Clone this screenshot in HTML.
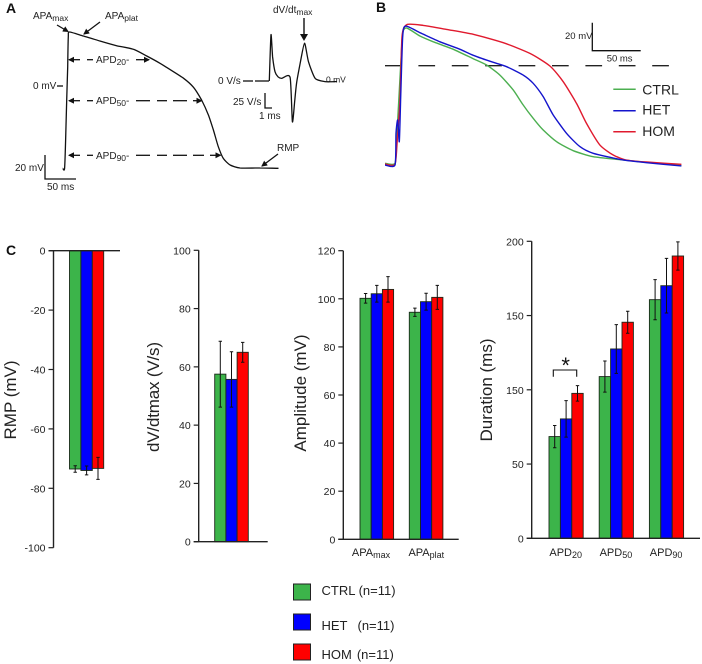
<!DOCTYPE html>
<html lang="en">
<head>
<meta charset="utf-8">
<title>Action potential figure</title>
<style>
html,body{margin:0;padding:0;background:#fff;}
svg{display:block;font-family:"Liberation Sans",Arial,sans-serif;fill:#222;filter:blur(0.3px);}
text{stroke:none;}
.p{font-weight:bold;font-size:14px;fill:#111;}
.a{font-size:10px;}
.sub{font-size:8.5px;}
.dash{stroke:#111;stroke-width:1.3;fill:none;}
.ln{stroke:#111;stroke-width:1.3;fill:none;}
.tick{font-size:10.5px;}
.title{font-size:17px;}
.leg{font-size:13px;}
</style>
</head>
<body>
<svg id="fig" xmlns="http://www.w3.org/2000/svg" width="702" height="664" viewBox="0 0 702 664">
<defs>
<marker id="ah" markerWidth="7" markerHeight="7" refX="5" refY="3" orient="auto-start-reverse" markerUnits="userSpaceOnUse"><path d="M0 0L6 3L0 6Z" fill="#111"/></marker>
</defs>

<g>
<text class="p" x="6" y="13">A</text>
<text class="a" x="33" y="19">APA<tspan class="sub" dy="2">max</tspan></text>
<text class="a" x="105" y="19">APA<tspan class="sub" dy="2">plat</tspan></text>
<line class="ln" x1="57" y1="25" x2="68" y2="31.5" marker-end="url(#ah)"/>
<line class="ln" x1="100" y1="22" x2="84" y2="34" marker-end="url(#ah)"/>
<text class="a" x="33" y="89">0 mV</text>
<line class="ln" x1="57" y1="86" x2="63" y2="86"/>

<g>
<line class="dash" x1="69" y1="59.7" x2="80" y2="59.7" marker-start="url(#ah)"/>
<line class="dash" x1="87" y1="59.7" x2="93" y2="59.7"/>
<line class="dash" x1="136" y1="59.7" x2="149" y2="59.7" marker-end="url(#ah)"/>
<text class="a" x="96" y="63">APD<tspan class="sub" dy="2">20</tspan><tspan dy="-2">-</tspan></text>
</g>
<g>
<line class="dash" x1="69" y1="100.7" x2="80" y2="100.7" marker-start="url(#ah)"/>
<line class="dash" x1="87" y1="100.7" x2="93" y2="100.7"/>
<line class="dash" x1="136" y1="100.7" x2="150" y2="100.7"/>
<line class="dash" x1="157" y1="100.7" x2="167" y2="100.7"/>
<line class="dash" x1="173" y1="100.7" x2="187" y2="100.7"/>
<line class="dash" x1="193" y1="100.7" x2="201.5" y2="100.7" marker-end="url(#ah)"/>
<text class="a" x="96" y="104">APD<tspan class="sub" dy="2">50</tspan><tspan dy="-2">-</tspan></text>
</g>
<g>
<line class="dash" x1="69" y1="155.3" x2="80" y2="155.3" marker-start="url(#ah)"/>
<line class="dash" x1="87" y1="155.3" x2="93" y2="155.3"/>
<line class="dash" x1="136" y1="155.3" x2="150" y2="155.3"/>
<line class="dash" x1="157" y1="155.3" x2="167" y2="155.3"/>
<line class="dash" x1="173" y1="155.3" x2="187" y2="155.3"/>
<line class="dash" x1="193" y1="155.3" x2="204" y2="155.3"/>
<line class="dash" x1="210" y1="155.3" x2="220.5" y2="155.3" marker-end="url(#ah)"/>
<text class="a" x="96" y="159">APD<tspan class="sub" dy="2">90</tspan><tspan dy="-2">-</tspan></text>
</g>

<text class="a" x="277" y="151">RMP</text>
<line class="ln" x1="278" y1="154" x2="262" y2="166" marker-end="url(#ah)"/>
<path class="ln" d="M45 155V179H76"/>
<text class="a" x="15" y="171">20 mV</text>
<text class="a" x="47" y="190">50 ms</text>

<text class="a" x="273" y="13">dV/dt<tspan class="sub" dy="2">max</tspan></text>
<line x1="304" y1="18" x2="304" y2="36" stroke="#111" stroke-width="1.4"/>
<path d="M300 34H308L304 41Z" fill="#111"/>
<text class="a" x="218" y="84">0 V/s</text>
<line class="ln" x1="243" y1="81" x2="253" y2="81"/>
<line class="ln" x1="255" y1="81" x2="269" y2="81"/>
<text x="326" y="82.5" font-size="8.5">0 mV</text>
<text class="a" x="233" y="105">25 V/s</text>
<path class="ln" d="M265 93V108H272"/>
<text class="a" x="259" y="119">1 ms</text>
</g>

<g>
<text class="p" x="376" y="12">B</text>
<text x="565" y="39" font-size="9.5">20 mV</text>
<path d="M592.3 22.7V50.7H640.7" fill="none" stroke="#111" stroke-width="1.3"/>
<text x="606.7" y="61.5" font-size="9.5">50 ms</text>
<line x1="385" y1="65.7" x2="670" y2="65.7" stroke="#222" stroke-width="1.4" stroke-dasharray="16.7 16.7"/>
<line x1="613.3" y1="89.3" x2="635.7" y2="89.3" stroke="#4caf50" stroke-width="1.5"/>
<line x1="613.3" y1="110.7" x2="635.7" y2="110.7" stroke="#1414cc" stroke-width="1.5"/>
<line x1="613.3" y1="131.7" x2="635.7" y2="131.7" stroke="#e01a2e" stroke-width="1.5"/>
<text x="642.3" y="94.5" font-size="14">CTRL</text>
<text x="642.3" y="114.5" font-size="14">HET</text>
<text x="642.3" y="136" font-size="14">HOM</text>
</g>

<g>
<text class="p" x="6" y="255">C</text>
<text class="title" transform="translate(16,400) rotate(-90)" text-anchor="middle">RMP (mV)</text>
<text class="title" transform="translate(159,397) rotate(-90)" text-anchor="middle" textLength="110">dV/dtmax (V/s)</text>
<text class="title" transform="translate(306,393) rotate(-90)" text-anchor="middle">Amplitude (mV)</text>
<text class="title" transform="translate(492,390) rotate(-90)" text-anchor="middle">Duration (ms)</text>
<path d="M553.3 376.7V370H576.7V376.7" fill="none" stroke="#111" stroke-width="1.1"/>
<text x="565.7" y="373" font-size="22" text-anchor="middle" fill="#111">*</text>
</g>

<g>
<rect x="293.5" y="584" width="17" height="16" fill="#3cb44a" stroke="#222" stroke-width="1"/>
<rect x="293.5" y="614" width="17" height="16" fill="#0000ff" stroke="#222" stroke-width="1"/>
<rect x="293.5" y="644" width="17" height="16" fill="#ff0000" stroke="#222" stroke-width="1"/>
<text class="leg" x="321.5" y="595">CTRL (n=11)</text>
<text class="leg" x="321.5" y="630">HET<tspan dx="10">(n=11)</tspan></text>
<text class="leg" x="321.5" y="659">HOM<tspan dx="5">(n=11)</tspan></text>
</g>
</svg>

<script>
// Panel A action potential (ms, mV)
var apTime = [0,3,5,6.5,8,9,10.8,33,60,87,114,135.5,157,168,195,211,224,235,243,251,259,270,286,318,348];
var apVoltage = [-68.6,-68.6,-39.4,-11.7,16,41,45,41.7,37.5,33.6,30.6,25,18.9,15.3,6.4,-1.1,-11.7,-24.2,-36.7,-50.6,-60.3,-65.8,-68.3,-68.3,-68.6];
// Panel A inset derivative (ms, V/s)
var dvdtTime = [0,0.25,0.5,0.85,1.3,1.85,3.1,3.45,3.8,4.1,4.6,5.25,5.85,6.85,8.35,10.1];
var dvdtValue = [0,77,40,15.5,7,4.4,6,-68,-32,-1,29,63,32,4.4,-1,-1];
// Panel B traces (ms, mV)
var ctrlTime = [0,10.4,12.1,16.3,18.4,22.6,36.4,50.3,71.1,91.9,105.8,119.7,133.6,144,154.4,164.8,178.7,196,216.9,244.6,272.4,308.8];
var ctrlVoltage = [-69.7,-69.7,-53,-0.7,23.1,26.9,21.2,17.1,11.7,5,0.5,-6.7,-17.4,-28.1,-37.6,-45.9,-54.3,-60.7,-65,-67.1,-69,-71.2];
var hetTime = [0,10.4,11.5,13.2,14.9,16.3,18.4,21.5,36.4,57.3,78.1,92,112.8,126.7,144,154.4,164.8,175.2,189.1,203,216.9,244.6,272.4,308.8];
var hetVoltage = [-70.9,-70.9,-48.3,-38.8,-54.3,-24.5,20.7,28.3,23.6,17.1,11.7,7.4,2.4,-0.7,-6.7,-12.6,-22.1,-35.2,-48.3,-57.8,-62.6,-66.9,-69.3,-71.6];
var homTime = [0,10.4,12.8,15.6,17.7,22.6,39.9,64.2,92,123.2,150.9,171.8,185.6,199.5,209.9,223.8,237.7,251.6,272.4,308.8];
var homVoltage = [-70.2,-70.4,-53,-24.5,20.7,29.3,28.8,25.9,22.4,16.4,8.8,-0.2,-11.4,-26.9,-41.2,-56.6,-63.8,-67.4,-68.8,-70.4];
// Panel C: RMP
var rmpTicks = [0,-20,-40,-60,-80,-100];
var rmpTickLabels = ['0','-20','-40','-60','-80','-100'];
var rmpMeans = [-73.5,-74,-73.3];
var rmpErrors = [1.1,1.5,3.7];
// Panel C: dV/dt max
var dvdtTicks = [0,20,40,60,80,100];
var dvdtTickLabels = ['0','20','40','60','80','100'];
var dvdtMeans = [57.5,55.7,65];
var dvdtErrors = [11.3,9.5,3.4];
// Panel C: amplitude
var ampTicks = [0,20,40,60,80,100,120];
var ampTickLabels = ['0','20','40','60','80','100','120'];
var ampCategories = ['APA|max','APA|plat'];
var ampCtrl = [100.2,94.4];
var ampHet = [102.1,98.8];
var ampHom = [103.9,100.6];
var ampCtrlErr = [2,1.7];
var ampHetErr = [3.5,3.5];
var ampHomErr = [5.3,5];
// Panel C: duration (labels as printed in the figure)
var durTicks = [0,50,100,150,200];
var durTickLabels = ['0','50','150','150','200'];
var durCategories = ['APD|20','APD|50','APD|90'];
var durCtrl = [68.5,108.9,160.7];
var durHet = [80.4,127.5,170.1];
var durHom = [97.6,145.5,190.1];
var durCtrlErr = [7.5,10.5,13.5];
var durHetErr = [12.3,16.4,18.4];
var durHomErr = [5.2,7.4,9.5];

var groupKeys = ['ctrl','het','hom'];
var barColors = ['#3cb44a','#0000ff','#ff0000'];
var NS = 'http://www.w3.org/2000/svg';
var fig = document.getElementById('fig');

function make(tag, attrs, parent) {
  var el = document.createElementNS(NS, tag);
  for (var k in attrs) el.setAttribute(k, attrs[k]);
  (parent || fig).appendChild(el);
  return el;
}
function linearScale(d0, d1, r0, r1) {
  return function (v) { return r0 + (v - d0) * (r1 - r0) / (d1 - d0); };
}
// Smooth curve through the sampled points (Catmull-Rom, reduced tension)
function tracePath(times, values, sx, sy) {
  var pts = times.map(function (t, i) { return [sx(t), sy(values[i])]; });
  var k = 0.11;
  var d = 'M' + pts[0][0].toFixed(1) + ' ' + pts[0][1].toFixed(1);
  for (var i = 0; i < pts.length - 1; i++) {
    var p0 = pts[Math.max(i - 1, 0)], p1 = pts[i], p2 = pts[i + 1], p3 = pts[Math.min(i + 2, pts.length - 1)];
    d += 'C' + (p1[0] + (p2[0] - p0[0]) * k).toFixed(1) + ' ' + (p1[1] + (p2[1] - p0[1]) * k).toFixed(1) + ' ' +
         (p2[0] - (p3[0] - p1[0]) * k).toFixed(1) + ' ' + (p2[1] - (p3[1] - p1[1]) * k).toFixed(1) + ' ' +
         p2[0].toFixed(1) + ' ' + p2[1].toFixed(1);
  }
  return d;
}
function drawTrace(name, times, values, sx, sy, color, width) {
  var el = make('path', {d: tracePath(times, values, sx, sy), fill: 'none', stroke: color, 'stroke-width': width, 'stroke-linejoin': 'round'});
  
  
}

var apX = linearScale(0, 50, 62.7, 93.7);
var apY = linearScale(0, 20, 86, 62);
drawTrace('action-potential-trace', apTime, apVoltage, apX, apY, '#111', 1.3);
var inX = linearScale(0, 1, 269.3, 276);
var inY = linearScale(0, 25, 81, 66);
drawTrace('dvdt-trace', dvdtTime, dvdtValue, inX, inY, '#111', 1.3);

var bX = linearScale(0, 50, 385, 433);
var bY = linearScale(0, 20, 65.7, 37.7);
drawTrace('trace-ctrl', ctrlTime, ctrlVoltage, bX, bY, '#4caf50', 1.4);
drawTrace('trace-hom', homTime, homVoltage, bX, bY, '#e01a2e', 1.4);
drawTrace('trace-het', hetTime, hetVoltage, bX, bY, '#1414cc', 1.4);

function drawAxes(name, axisX, y, ticks, labels, xStart, xEnd, baseValue) {
  var g = make('g', {});
  
  
  var top = y(Math.max.apply(null, ticks));
  var bottom = y(Math.min.apply(null, ticks));
  var yAxis = make('line', {x1: axisX, x2: axisX, y1: top, y2: bottom, stroke: '#222', 'stroke-width': 1.4}, g);
  
  
  var xAxis = make('line', {x1: xStart, x2: xEnd, y1: y(baseValue), y2: y(baseValue), stroke: '#222', 'stroke-width': 1.4}, g);
  
  
  ticks.forEach(function (t, i) {
    var tick = make('line', {x1: axisX - 5, x2: axisX, y1: y(t), y2: y(t), stroke: '#222', 'stroke-width': 1.2}, g);
    
    
    var lab = make('text', {x: axisX - 8, y: y(t) + 4, 'text-anchor': 'end', 'class': 'tick'}, g);
    lab.textContent = labels[i];
    
    
  });
}
function drawBar(name, x, w, y, base, mean, err, color) {
  var top = Math.min(y(mean), y(base));
  var bar = make('rect', {x: x, y: top, width: w, height: Math.abs(y(mean) - y(base)), fill: color, stroke: '#1a2a1a', 'stroke-width': 0.9});
  
  
  var cx = x + w / 2;
  var eb = make('path', {
    d: 'M' + cx + ' ' + y(mean + err) + 'V' + y(mean - err) +
       'M' + (cx - 1.7) + ' ' + y(mean + err) + 'H' + (cx + 1.7) +
       'M' + (cx - 1.7) + ' ' + y(mean - err) + 'H' + (cx + 1.7),
    fill: 'none', stroke: '#111', 'stroke-width': 1
  });
  
  
}
function drawCategoryLabel(text, cx, by) {
  var parts = text.split('|');
  var t = make('text', {x: cx, y: by, 'text-anchor': 'middle', 'font-size': 11});
  t.appendChild(document.createTextNode(parts[0]));
  var s = make('tspan', {dy: 2, 'font-size': 9}, t);
  s.textContent = parts[1];
  
  
}

// RMP
var rmpY = linearScale(0, -100, 250.7, 547.7);
groupKeys.forEach(function (k, i) {
  drawBar('rmp-' + k, 69.5 + i * 11.4, 11.4, rmpY, 0, rmpMeans[i], rmpErrors[i], barColors[i]);
});
drawAxes('rmp', 53.5, rmpY, rmpTicks, rmpTickLabels, 48.5, 120, 0);

// dV/dt
var dvY = linearScale(0, 100, 541.7, 250.3);
groupKeys.forEach(function (k, i) {
  drawBar('dvdt-' + k, 214.7 + i * 11.2, 11.2, dvY, 0, dvdtMeans[i], dvdtErrors[i], barColors[i]);
});
drawAxes('dvdt', 198.7, dvY, dvdtTicks, dvdtTickLabels, 193.7, 267.7, 0);

// Amplitude
var ampY = linearScale(0, 120, 539.3, 250.7);
var ampSeries = [ampCtrl, ampHet, ampHom];
var ampErrs = [ampCtrlErr, ampHetErr, ampHomErr];
ampCategories.forEach(function (c, g) {
  var gx = 360 + g * 49.3;
  groupKeys.forEach(function (k, i) {
    drawBar('amplitude-' + c.replace('|', '-').toLowerCase() + '-' + k, gx + i * 11.2, 11.2, ampY, 0, ampSeries[i][g], ampErrs[i][g], barColors[i]);
  });
  drawCategoryLabel(c, gx + 11 + (g ? 6 : 0), 556);
});
drawAxes('amplitude', 343.3, ampY, ampTicks, ampTickLabels, 338.3, 458.7, 0);

// Duration
var durY = linearScale(0, 200, 538.3, 241.3);
var durSeries = [durCtrl, durHet, durHom];
var durErrs = [durCtrlErr, durHetErr, durHomErr];
durCategories.forEach(function (c, g) {
  var gx = 549 + g * 50.2;
  groupKeys.forEach(function (k, i) {
    drawBar('duration-' + c.replace('|', '-').toLowerCase() + '-' + k, gx + i * 11.4, 11.4, durY, 0, durSeries[i][g], durErrs[i][g], barColors[i]);
  });
  drawCategoryLabel(c, gx + 16.7, 556);
});
drawAxes('duration', 531.7, durY, durTicks, durTickLabels, 526.7, 700, 0);
</script>
</body>
</html>
